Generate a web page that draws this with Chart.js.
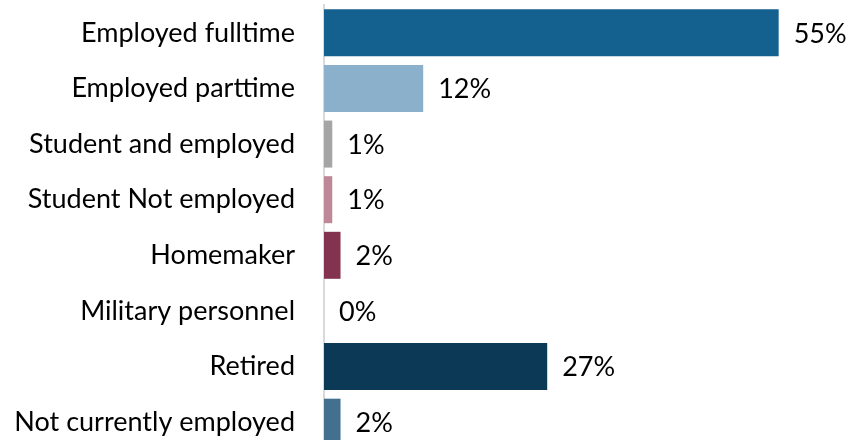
<!DOCTYPE html>
<html>
<head>
<meta charset="utf-8">
<script src="https://cdn.jsdelivr.net/npm/chart.js@4.4.1/dist/chart.umd.min.js"></script>
<style>
  html, body { margin: 0; padding: 0; background: #ffffff; overflow: hidden; }
  canvas { display: block; }
</style>
</head>
<body>
<canvas id="chart" width="853" height="450"></canvas>
<script>
// Employment status of respondents (percent)
const categories = [
  'Employed fulltime',
  'Employed parttime',
  'Student and employed',
  'Student Not employed',
  'Homemaker',
  'Military personnel',
  'Retired',
  'Not currently employed'
];
const shares = [55, 12, 1, 1, 2, 0, 27, 2];
const barColors = [
  '#14608f', '#8ab0cb', '#a5a5a5', '#bf8898',
  '#833350', '#5b7f9a', '#0c3a56', '#44708f'
];

const FONT = 'Lato, "Open Sans", sans-serif';

// Writes the percentage just past the end of each bar
const valueLabels = {
  id: 'valueLabels',
  afterDatasetsDraw(chart) {
    const { ctx } = chart;
    const meta = chart.getDatasetMeta(0);
    ctx.save();
    ctx.font = '27px ' + FONT;
    ctx.fillStyle = '#000000';
    ctx.textAlign = 'left';
    ctx.textBaseline = 'middle';
    meta.data.forEach((bar, i) => {
      ctx.fillText(shares[i] + '%', bar.x + 15, bar.y + 1);
    });
    ctx.restore();
  }
};

const chart = new Chart(document.getElementById('chart'), {
  type: 'bar',
  data: {
    labels: categories,
    datasets: [{
      data: shares,
      backgroundColor: barColors,
      borderWidth: 0,
      categoryPercentage: 1,
      barPercentage: 0.845
    }]
  },
  options: {
    indexAxis: 'y',
    responsive: false,
    animation: false,
    layout: { padding: { top: 5, right: 33, bottom: 0, left: 0 } },
    plugins: {
      legend: { display: false },
      tooltip: { enabled: false }
    },
    scales: {
      x: {
        display: false,
        min: 0,
        max: 60
      },
      y: {
        afterFit(scale) { scale.width = 324; scale.paddingTop = 0; scale.paddingBottom = 0; },
        grid: { display: false },
        border: { display: true, color: '#d9d9d9', width: 2 },
        ticks: {
          padding: 21,
          color: '#000000',
          font: { family: FONT, size: 27 }
        }
      }
    }
  },
  plugins: [valueLabels]
});
</script>
</body>
</html>
